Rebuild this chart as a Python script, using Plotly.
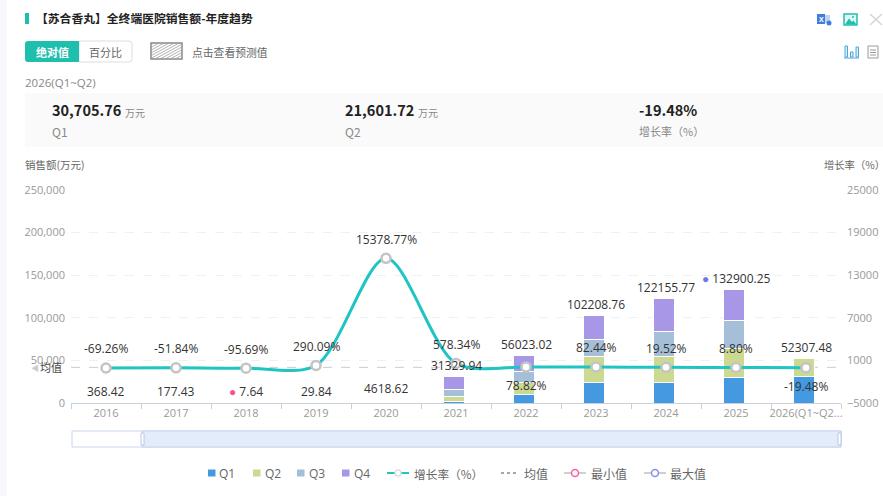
import plotly.graph_objects as go

W, H = 883, 496
L, R, T, B = 71, 841, 190, 403

anos = ["2016", "2017", "2018", "2019", "2020", "2021", "2022", "2023", "2024", "2025", "2026(Q1~Q2..."]
q1 = [None, None, None, None, None, 1800, 9800, 23500, 23500, 29500, 30705.76]
q2 = [None, None, None, None, None, 6000, 14000, 31500, 30500, 34000, 21601.72]
q3 = [None, None, None, None, None, 8000, 13500, 20000, 30000, 33500, None]
q4 = [None, None, None, None, None, 15529.94, 18723.02, 27208.76, 38155.77, 35900.25, None]
totais = [368.42, 177.43, 7.64, 29.84, 4618.62, 31329.94, 56023.02, 102208.76, 122155.77, 132900.25, 52307.48]
crescimento = [-69.26, -51.84, -95.69, 290.09, 15378.77, 578.34, 78.82, 82.44, 19.52, 8.80, -19.48]
crescimento_abaixo = ["2022", "2026(Q1~Q2..."]
media = 41843
nomes_trim = ["Q1", "Q2", "Q3", "Q4"]
cores_trim = ["#4499e0", "#ccd991", "#a5bfd8", "#a797e6"]
ticks_esq = [0, 50000, 100000, 150000, 200000, 250000]
ticks_dir = [-5000, 1000, 7000, 13000, 19000, 25000]

FONTE = "Noto Sans CJK SC"
FONTE_NUM = "Open Sans"
TEAL = "#1fbfae"


def px(x):
    return (x - L) / (R - L)


def py(y):
    return (B - y) / (B - T)


formas = []
notas = []


def caixa(x0, y0, x1, y1, fill="rgba(0,0,0,0)", line=None, lw=1):
    formas.append(dict(type="rect", xref="paper", yref="paper", x0=px(x0), x1=px(x1), y0=py(y0), y1=py(y1),
                       fillcolor=fill, line=dict(color=line or "rgba(0,0,0,0)", width=lw if line else 0), layer="below"))


def caminho(pontos, fill, line=None, lw=1, fechar=True, layer="below"):
    # pontos em pixels da pagina; "Q" entra como ponto de controle na tupla de 4
    d = ""
    for n, p in enumerate(pontos):
        if len(p) == 4:
            d += f"Q{px(p[0])},{py(p[1])} {px(p[2])},{py(p[3])} "
        else:
            d += f"{'M' if n == 0 else 'L'}{px(p[0])},{py(p[1])} "
    formas.append(dict(type="path", xref="paper", yref="paper", path=d + ("Z" if fechar else ""), fillcolor=fill,
                       line=dict(color=line or "rgba(0,0,0,0)", width=lw if line else 0), layer=layer))


def linha(x0, y0, x1, y1, cor, lw=1, dash="solid"):
    formas.append(dict(type="line", xref="paper", yref="paper", x0=px(x0), x1=px(x1), y0=py(y0), y1=py(y1),
                       line=dict(color=cor, width=lw, dash=dash), layer="above"))


def bola(x, y, r, cor, fill="#fff", lw=1.5):
    formas.append(dict(type="circle", xref="paper", yref="paper", x0=px(x - r), x1=px(x + r), y0=py(y + r), y1=py(y - r),
                       fillcolor=fill, line=dict(color=cor, width=lw), layer="above"))


def texto(x, y, t, size=12, cor="#666", anchor="left", fonte=FONTE):
    notas.append(dict(xref="paper", yref="paper", x=px(x), y=py(y), text=t, showarrow=False, xanchor=anchor,
                      yanchor="middle", align=anchor, borderpad=0, borderwidth=0,
                      font=dict(size=size, color=cor, family=fonte)))


# fundo e cabecalho
caixa(0, 0, 7, H, fill="#f6f8fb")
caixa(25, 13, 29, 24, fill=TEAL)
texto(36, 18, "<b>【苏合香丸】全终端医院销售额-年度趋势</b>", 11.8, "#222")
caminho([(79, 41), (129, 41), (132, 41, 132, 44), (132, 59), (132, 62, 129, 62), (79, 62)], "#fff", "#dddddd")
caminho([(79, 41), (79, 62), (28, 62), (25, 62, 25, 59), (25, 44), (25, 41, 28, 41)], TEAL)
texto(52, 51.5, "<b>绝对值</b>", 11, "#fff", "center")
texto(105.5, 51.5, "百分比", 11, "#666", "center")
caixa(151, 43, 182, 59, fill="#fff", line="#888888", lw=1.5)
# hachura do botao de previsao
for s in range(125, 182, 5):
    xa, ya = max(s, 151), 59 - (max(s, 151) - s) * 0.55
    xb = min(s + 29, 182)
    yb = 59 - (xb - s) * 0.55
    linha(xa, ya, xb, max(yb, 43), "#a0a0a0", 0.8)
texto(192, 51.5, "点击查看预测值", 10.8, "#666")
texto(25, 82, "2026(Q1~Q2)", 11.5, "#888", fonte=FONTE_NUM)
caixa(25, 93, 883, 147, fill="#fafafa")
texto(52, 110, "<b>30,705.76</b>", 14.5, "#222")
texto(125, 112, "万元", 10, "#888")
texto(52, 131, "Q1", 12, "#888")
texto(345, 110, "<b>21,601.72</b>", 14.5, "#222")
texto(418, 112, "万元", 10, "#888")
texto(345, 131, "Q2", 12, "#888")
texto(639, 110, "<b>-19.48%</b>", 14.5, "#222")
texto(639, 131, "增长率（%）", 11, "#888")
texto(25, 164, "销售额(万元)", 10.5, "#666")
texto(824, 164, "增长率（%）", 10.3, "#666")

# icones
caixa(817, 14, 825, 24, fill="#3f7fdc")
caixa(825, 15, 830, 23, fill="#c3d3f2")
texto(818.5, 19, "<b>X</b>", 7, "#fff", fonte=FONTE_NUM)
bola(829, 23, 2.5, "#3f7fdc", fill="#3f7fdc", lw=0)
caixa(844, 14, 857, 25, fill="#e2f6f2", line=TEAL, lw=1.5)
caminho([(845, 24.5), (849, 18.5), (852, 22), (853.5, 20.5), (856.5, 24.5)], TEAL)
bola(853, 17, 1, TEAL, fill=TEAL, lw=0)
linha(870, 14, 882, 25, "#d6d6d6", 1.5)
linha(882, 14, 870, 25, "#d6d6d6", 1.5)
for x0, y0 in [(845, 46), (850.5, 52), (856, 47)]:
    caixa(x0, y0, x0 + 2.5, 57, fill="#d9eef8", line="#4aa8d8", lw=1)
linha(844, 58, 859, 58, "#4aa8d8", 1)
caixa(868, 46, 878, 58, fill="#fff", line="#999999")
for yl in (50, 52.5, 55):
    linha(870, yl, 876, yl, "#999999", 1)

# slider
caixa(72, 431, 841, 447, fill="#fff", line="#c9d4ee")
caixa(142, 431, 841, 447, fill="#e4ebfb", line="#c9d4ee")
caixa(141, 433, 144, 445, fill="#fff", line="#b8c6e8")
caixa(838, 433, 841, 445, fill="#fff", line="#b8c6e8")

# legenda feita a mao para acertar as posicoes
ly = 473
for nome, cor, xq, xt in zip(nomes_trim, cores_trim, [208, 253, 297, 342], [219, 265, 309, 354]):
    caixa(xq, ly - 3.5, xq + 7.5, ly + 3.5, fill=cor)
    texto(xt, ly, nome, 12, "#666", fonte=FONTE_NUM)
linha(387, ly, 409, ly, "#1fc4c4", 2)
bola(398, ly, 3, "#dddddd")
texto(414, ly, "增长率（%）", 11.7, "#666")
linha(501, ly, 519, ly, "#888888", 1.5, "dot")
texto(524, ly, "均值", 12, "#666")
linha(564, ly, 586, ly, "#d0d0d0", 2)
bola(575, ly, 3.5, "#ff5fa2")
texto(591, ly, "最小值", 12, "#666")
linha(644, ly, 666, ly, "#d0d0d0", 2)
bola(655, ly, 3.5, "#8f8fef")
texto(670, ly, "最大值", 12, "#666")

# media
formas.append(dict(type="line", xref="paper", yref="y", x0=0, x1=1, y0=media, y1=media,
                   line=dict(color="#cccccc", width=1, dash="dash"), layer="below"))
texto(62, 367, "均值", 11, "#444", "right")
texto(31, 367, "◀", 8, "#cccccc")

# rotulos dos valores (x pela posicao da categoria)
for i, v in enumerate(totais):
    t = f"{v:.2f}"
    if v == min(totais):
        t = "<span style='color:#ff4d94'>●</span> " + t
    if v == max(totais):
        t = "<span style='color:#6f78e8'>●</span> " + t
    notas.append(dict(x=i, y=v, xref="x", yref="y", text=t, showarrow=False, yshift=11,
                      font=dict(size=12, color="#333", family=FONTE_NUM)))
for i, (ano, v) in enumerate(zip(anos, crescimento)):
    desloc = -19 if ano in crescimento_abaixo else 19
    notas.append(dict(x=i, y=v, xref="x", yref="y2", text=f"{v:.2f}%", showarrow=False, yshift=desloc,
                      font=dict(size=12, color="#333", family=FONTE_NUM)))

fig = go.Figure()
for nome, serie, cor in zip(nomes_trim, [q1, q2, q3, q4], cores_trim):
    fig.add_trace(go.Bar(x=anos, y=serie, name=nome, width=0.3, offset=-0.179,
                         marker=dict(color=cor, line=dict(color="#fff", width=1))))
fig.add_trace(go.Scatter(x=anos, y=crescimento, name="增长率（%）", yaxis="y2", mode="lines+markers",
                         line=dict(color="#1fc4c4", width=3, shape="spline", smoothing=0.85),
                         marker=dict(size=9, color="#fff", line=dict(color="#c4c4c4", width=2.5))))

fig.update_layout(
    width=W, height=H, barmode="stack", showlegend=False,
    margin=dict(l=L, r=W - R, t=T, b=H - B, autoexpand=False),
    paper_bgcolor="#fff", plot_bgcolor="#fff",
    font=dict(family=FONTE_NUM, size=11, color="#999"),
    shapes=formas, annotations=notas,
    xaxis=dict(type="category", categoryorder="array", categoryarray=anos, range=[-0.5, 10.5], automargin=False,
               tickangle=0, tickson="boundaries", ticks="outside", ticklen=5, tickcolor="#c8d0d8", showline=True,
               linecolor="#c8d0d8", showgrid=False, tickfont=dict(size=11, color="#999")),
    yaxis=dict(range=[0, 250000], tickvals=ticks_esq, tickformat=",", showgrid=True, gridcolor="#eef1f1",
               griddash="dash", zeroline=False, automargin=False, ticklabelstandoff=5,
               tickfont=dict(size=11, color="#999")),
    yaxis2=dict(range=[-5000, 25000], tickvals=ticks_dir, overlaying="y", side="right", showgrid=False,
                zeroline=False, automargin=False, ticklabelstandoff=5, tickformat="d",
                tickfont=dict(size=11, color="#999")),
)

fig.write_html("out.html", config=dict(displayModeBar=False), post_script="document.body.style.margin='0';")
